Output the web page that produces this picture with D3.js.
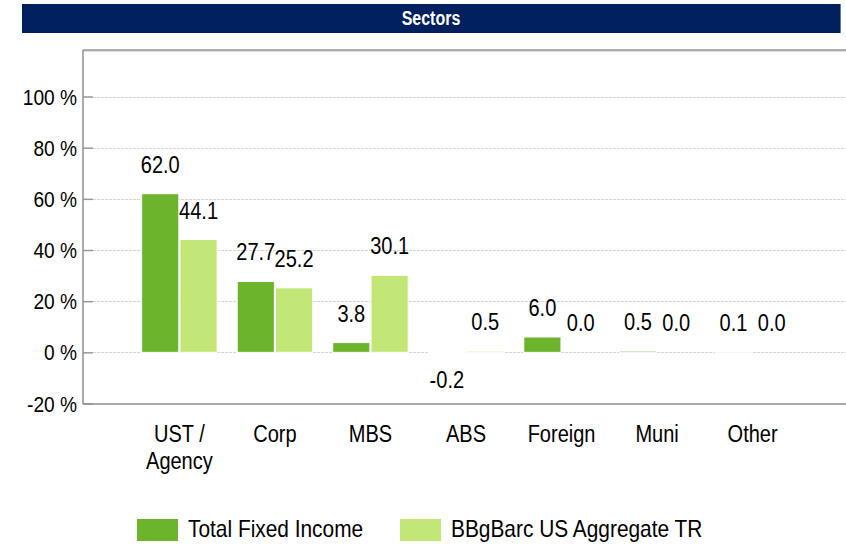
<!DOCTYPE html>
<html>
<head>
<meta charset="utf-8">
<script src="https://cdn.jsdelivr.net/npm/d3@7"></script>
<style>
  html, body { margin: 0; padding: 0; background: #fff; }
  svg { display: block; font-family: "Liberation Sans", Arial, sans-serif; }
</style>
</head>
<body>
<svg id="chart" width="846" height="544"></svg>
<script>
// Sector allocation, in percent
const categories = ["UST / Agency", "Corp", "MBS", "ABS", "Foreign", "Muni", "Other"];
const seriesNames = ["Total Fixed Income", "BBgBarc US Aggregate TR"];
const totalFixedIncome = [62.0, 27.7, 3.8, -0.2, 6.0, 0.5, 0.1];
const bbgBarcAggregate = [44.1, 25.2, 30.1, 0.5, 0.0, 0.0, 0.0];
const yTicks = [-20, 0, 20, 40, 60, 80, 100];
const colors = ["#6bb42c", "#c3e776"];

const svg = d3.select("#chart");
const W = 846, H = 544;
const frame = { left: 83, right: 849, top: 50, bottom: 404 };
const squeeze = 0.87; // condensed text look

function addText(parent, x, y, str, size, anchor) {
  return parent.append("text")
    .attr("transform", `translate(${x},${y}) scale(${squeeze},1)`)
    .attr("font-size", size)
    .attr("text-anchor", anchor)
    .attr("fill", "#000")
    .text(str);
}

// Title bar
svg.append("rect").attr("x", 22).attr("y", 4).attr("width", 818).attr("height", 29)
  .attr("fill", "#002060");
svg.append("line").attr("x1", 840.5).attr("x2", 840.5).attr("y1", 4).attr("y2", 33)
  .attr("stroke", "#5b7bb5").attr("stroke-width", 1);
svg.append("text")
  .attr("transform", `translate(431,25) scale(0.8,1)`)
  .attr("text-anchor", "middle").attr("font-size", 20).attr("font-weight", "bold")
  .attr("fill", "#fff").text("Sectors");

// Scales
const y = d3.scaleLinear().domain([-20, 100]).range([403.5, 96.5]);
const x0 = d3.scaleBand().domain(categories).range([frame.left, frame.right])
  .paddingInner(0.21).paddingOuter(0.614);
const x1 = d3.scaleBand().domain(seriesNames).range([0, x0.bandwidth()]).paddingInner(0.03);

// Gridlines (with short dark tick stubs on the axis)
const grid = svg.append("g");
yTicks.filter(v => v >= 0).forEach(v => {
  grid.append("line")
    .attr("x1", frame.left + 10).attr("x2", W)
    .attr("y1", Math.round(y(v)) + 0.5).attr("y2", Math.round(y(v)) + 0.5)
    .attr("stroke", "#d6d6d6").attr("stroke-width", 1).attr("stroke-dasharray", "3,1");
});
const yAxis = d3.axisRight(y).tickValues(yTicks).tickSize(10).tickFormat("");
const axisG = svg.append("g").attr("transform", `translate(${frame.left},0)`).call(yAxis);
axisG.select(".domain").remove();
axisG.selectAll(".tick line").attr("stroke", "#999").attr("stroke-width", 1.5);

// Tick labels
yTicks.forEach(v => {
  addText(svg, 77, y(v) + 8, `${v} %`, 22, "end");
});

// Bars
const rows = categories.map((c, i) => ({ cat: c, vals: [totalFixedIncome[i], bbgBarcAggregate[i]] }));
const groups = svg.append("g").selectAll("g").data(rows).join("g")
  .attr("transform", d => `translate(${x0(d.cat)},0)`);

groups.selectAll("rect").data(d => d.vals.map((v, k) => ({ v, k })))
  .join("rect")
  .attr("x", d => x1(seriesNames[d.k]))
  .attr("width", x1.bandwidth())
  .attr("y", d => y(Math.max(0, d.v)))
  .attr("height", d => Math.abs(y(d.v) - y(0)))
  .attr("fill", d => colors[d.k])
  .attr("stroke", d => d.v === 0 ? "none" : "#fff")
  .attr("stroke-width", 1);

// Value labels
groups.each(function (d) {
  const g = d3.select(this);
  d.vals.forEach((v, k) => {
    const cx = x1(seriesNames[k]) + x1.bandwidth() / 2;
    const yy = v >= 0 ? y(v) - 21 : y(v) + 35;
    addText(g, cx, yy, v.toFixed(1), 23, "middle");
  });
});

// Frame lines
svg.append("line").attr("x1", frame.left).attr("x2", W).attr("y1", frame.top).attr("y2", frame.top)
  .attr("stroke", "#8f8f8f").attr("stroke-width", 1.5);
svg.append("line").attr("x1", frame.left).attr("x2", W).attr("y1", frame.top + 1.5).attr("y2", frame.top + 1.5)
  .attr("stroke", "#dcdcdc").attr("stroke-width", 1);
svg.append("line").attr("x1", frame.left).attr("x2", frame.left).attr("y1", frame.top).attr("y2", frame.bottom)
  .attr("stroke", "#8f8f8f").attr("stroke-width", 1.5);
svg.append("line").attr("x1", frame.left).attr("x2", W).attr("y1", frame.bottom).attr("y2", frame.bottom)
  .attr("stroke", "#8f8f8f").attr("stroke-width", 1.5);

// Category labels
categories.forEach(c => {
  const lines = c.replace("/ ", "/\n").split("\n");
  const cx = x0(c) + x0.bandwidth() / 2;
  lines.forEach((ln, j) => addText(svg, cx, 442 + j * 27, ln, 23, "middle"));
});

// Legend
const legendX = [137, 400];
seriesNames.forEach((name, k) => {
  svg.append("rect").attr("x", legendX[k]).attr("y", 519).attr("width", 41).attr("height", 22)
    .attr("fill", colors[k]);
  addText(svg, legendX[k] + 51, 537, name, 24, "start");
});
</script>
</body>
</html>
